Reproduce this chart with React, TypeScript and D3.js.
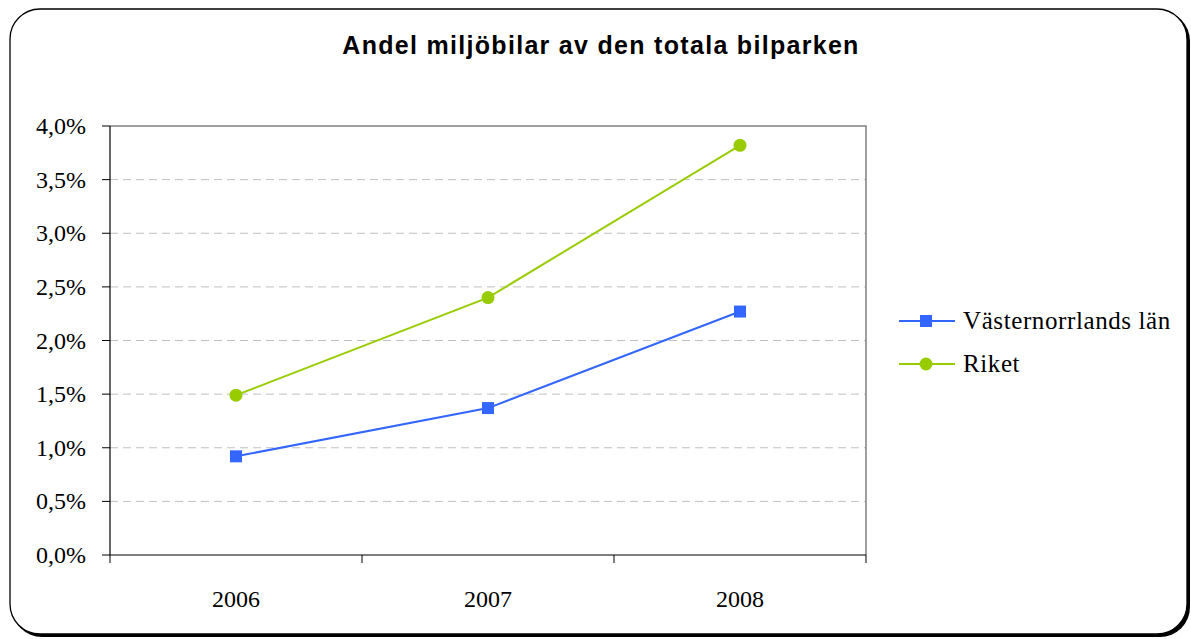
import React, { useEffect, useRef } from 'react';
import * as d3 from 'd3';

const years = ['2006', '2007', '2008'];
const vasternorrland = [0.92, 1.37, 2.27];
const riket = [1.49, 2.40, 3.82];
const yTicks = [0, 0.5, 1, 1.5, 2, 2.5, 3, 3.5, 4];

const seriesList = [
  { name: 'Västernorrlands län', values: vasternorrland, color: '#3366ff', marker: 'square' },
  { name: 'Riket', values: riket, color: '#99cc00', marker: 'circle' },
];

export default function App() {
  const svgRef = useRef<SVGSVGElement>(null);

  useEffect(() => {
    const width = 1191;
    const height = 639;
    const plot = { left: 110, top: 126, right: 866, bottom: 555 };

    const svg = d3.select(svgRef.current).attr('width', width).attr('height', height);
    svg.selectAll('*').remove();

    // outer frame with shadow
    svg.append('rect')
      .attr('x', 12).attr('y', 11).attr('width', 1178).attr('height', 626)
      .attr('rx', 30).attr('fill', '#000');
    svg.append('rect')
      .attr('x', 10).attr('y', 9).attr('width', 1177).attr('height', 625)
      .attr('rx', 30).attr('fill', '#fff').attr('stroke', '#000').attr('stroke-width', 1.3);

    svg.append('text')
      .attr('x', 601).attr('y', 54)
      .attr('text-anchor', 'middle')
      .attr('font-family', 'Arial, Liberation Sans, sans-serif')
      .attr('font-weight', 'bold')
      .attr('font-size', 25)
      .attr('letter-spacing', 1.3)
      .text('Andel miljöbilar av den totala bilparken');

    const x = d3.scaleBand().domain(years).range([plot.left, plot.right]);
    const y = d3.scaleLinear().domain([0, 4]).range([plot.bottom, plot.top]);

    // gridlines
    svg.append('g').selectAll('line')
      .data(yTicks.filter(t => t > 0 && t < 4))
      .join('line')
      .attr('x1', plot.left).attr('x2', plot.right)
      .attr('y1', d => y(d)).attr('y2', d => y(d))
      .attr('stroke', '#c0c0c0').attr('stroke-dasharray', '8,5');

    // plot frame (top/right grey)
    svg.append('path')
      .attr('d', `M${plot.left},${plot.top}H${plot.right}V${plot.bottom}`)
      .attr('fill', 'none').attr('stroke', '#808080').attr('stroke-width', 1.5);

    const font = 'Times New Roman, Liberation Serif, serif';

    // y axis
    const yAxis = svg.append('g');
    yAxis.append('line')
      .attr('x1', plot.left).attr('x2', plot.left)
      .attr('y1', plot.top).attr('y2', plot.bottom)
      .attr('stroke', '#000').attr('stroke-width', 1.2);
    yAxis.selectAll('line.tick')
      .data(yTicks).join('line').attr('class', 'tick')
      .attr('x1', plot.left - 8).attr('x2', plot.left)
      .attr('y1', d => y(d)).attr('y2', d => y(d))
      .attr('stroke', '#000');
    yAxis.selectAll('text')
      .data(yTicks).join('text')
      .attr('x', 86).attr('y', d => y(d) + 8)
      .attr('text-anchor', 'end')
      .attr('font-family', font).attr('font-size', 24)
      .text(d => d3.format('.1f')(d).replace('.', ',') + '%');

    // x axis
    const xAxis = svg.append('g');
    xAxis.append('line')
      .attr('x1', plot.left).attr('x2', plot.right)
      .attr('y1', plot.bottom).attr('y2', plot.bottom)
      .attr('stroke', '#000').attr('stroke-width', 1.2);
    const bounds = years.map(d => x(d) as number).concat([plot.right]);
    xAxis.selectAll('line.tick')
      .data(bounds).join('line').attr('class', 'tick')
      .attr('x1', d => d).attr('x2', d => d)
      .attr('y1', plot.bottom).attr('y2', plot.bottom + 8)
      .attr('stroke', '#000');
    xAxis.selectAll('text')
      .data(years).join('text')
      .attr('x', d => (x(d) as number) + x.bandwidth() / 2)
      .attr('y', 607)
      .attr('text-anchor', 'middle')
      .attr('font-family', font).attr('font-size', 24)
      .text(d => d);

    const line = d3.line<number>()
      .x((_, i) => (x(years[i]) as number) + x.bandwidth() / 2)
      .y(d => y(d));

    const drawMarker = (g: any, kind: string, cx: number, cy: number, color: string) => {
      if (kind === 'square') {
        g.append('rect').attr('x', cx - 6).attr('y', cy - 6).attr('width', 12).attr('height', 12)
          .attr('fill', color);
      } else {
        g.append('circle').attr('cx', cx).attr('cy', cy).attr('r', 6.5).attr('fill', color);
      }
    };

    seriesList.forEach((s, si) => {
      const g = svg.append('g');
      g.append('path').attr('d', line(s.values))
        .attr('fill', 'none').attr('stroke', s.color).attr('stroke-width', 2);
      s.values.forEach((v, i) => {
        drawMarker(g, s.marker, (x(years[i]) as number) + x.bandwidth() / 2, y(v), s.color);
      });

      // legend
      const ly = 321 + si * 43;
      const lg = svg.append('g');
      lg.append('line').attr('x1', 899).attr('x2', 955).attr('y1', ly).attr('y2', ly)
        .attr('stroke', s.color).attr('stroke-width', 2);
      drawMarker(lg, s.marker, 926, ly, s.color);
      lg.append('text').attr('x', 963).attr('y', ly + 8)
        .attr('font-family', font).attr('font-size', 25)
        .attr('letter-spacing', 0.6)
        .text(s.name);
    });
  }, []);

  return (
    <div style={{ position: 'absolute', left: 0, top: 0 }}>
      <svg ref={svgRef} />
    </div>
  );
}
